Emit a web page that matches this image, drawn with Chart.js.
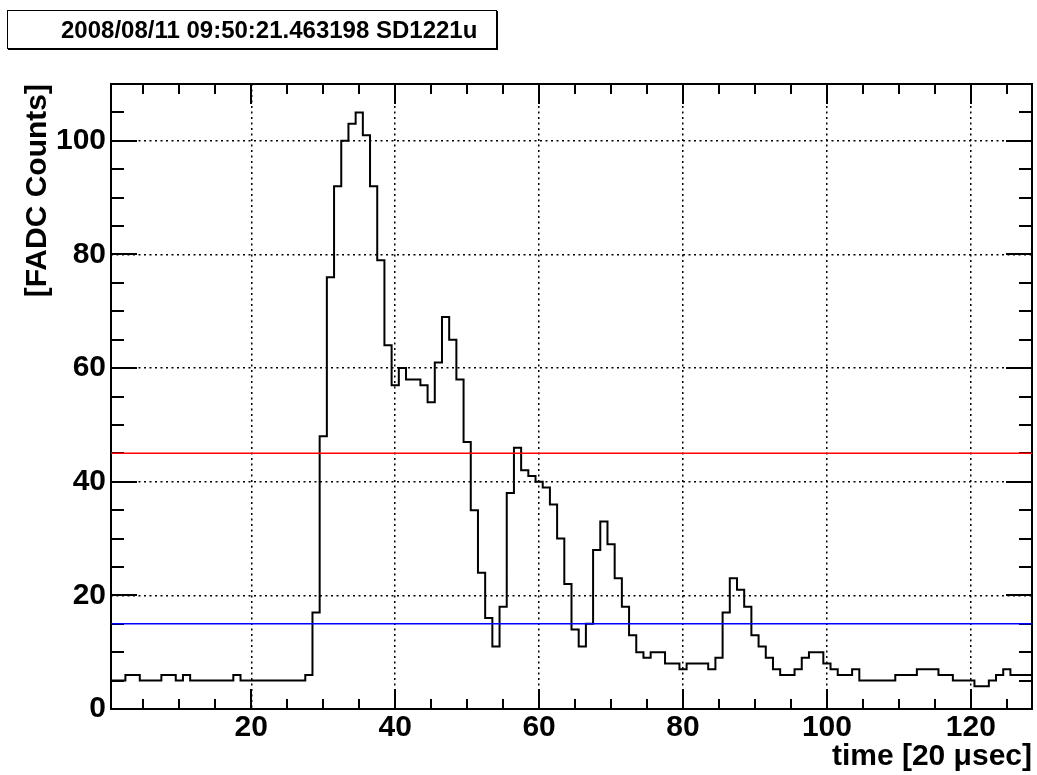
<!DOCTYPE html>
<html>
<head>
<meta charset="utf-8">
<title>SD1221u FADC trace</title>
<script src="https://cdn.jsdelivr.net/npm/chart.js@4.4.1/dist/chart.umd.min.js"></script>
<style>
  body { margin: 0; background: #fff; }
  #wrap { position: relative; width: 1037px; height: 775px; }
  #c { position: absolute; left: 0; top: 0; }
  #title {
    position: absolute; left: 7px; top: 10px; width: 490px; height: 39px;
    box-sizing: border-box; border: 1px solid #000; box-shadow: 1px 1px 0 #000;
    background: #fff; padding-left: 53px; white-space: nowrap;
    font: bold 24px "Liberation Sans", Arial, sans-serif; line-height: 37px; color: #000;
  }
</style>
</head>
<body>
<div id="wrap">
  <canvas id="c" width="1037" height="775"></canvas>
  <div id="title">2008/08/11 09:50:21.463198 SD1221u</div>
</div>
<script>
// FADC counts per 20 usec time bin, bins 1..128
const counts = [
  5, 5, 6, 6, 5, 5, 5, 6, 6, 5,
  6, 5, 5, 5, 5, 5, 5, 6, 5, 5,
  5, 5, 5, 5, 5, 5, 5, 6, 17, 48,
  76, 92, 100, 103, 105, 101, 92, 79, 64, 57,
  60, 58, 58, 57, 54, 61, 69, 65, 58, 47,
  35, 24, 16, 11, 18, 38, 46, 42, 41, 40,
  39, 36, 30, 22, 14, 11, 15, 28, 33, 29,
  23, 18, 13, 10, 9, 10, 10, 8, 8, 7,
  8, 8, 8, 7, 9, 17, 23, 21, 18, 13,
  11, 9, 7, 6, 6, 7, 9, 10, 10, 8,
  7, 6, 6, 7, 5, 5, 5, 5, 5, 6,
  6, 6, 7, 7, 7, 6, 6, 5, 5, 5,
  4, 4, 5, 6, 7, 6, 6, 6
];
const firstEdge = 0.5;
const xRange = [0.5, 128.5];
const yRange = [0, 110];
const xTicks = [20, 40, 60, 80, 100, 120];
const yTicks = [0, 20, 40, 60, 80, 100];
const upperLevel = 45;
const lowerLevel = 15;

const FONT = '"Liberation Sans", Arial, Helvetica, sans-serif';
const labelFont = { family: FONT, size: 30, weight: 'bold' };

// left bin edges, plus the closing right edge of the last bin
const histPoints = counts.map((v, i) => ({ x: firstEdge + i, y: v }));
histPoints.push({ x: firstEdge + counts.length, y: counts[counts.length - 1] });

const levelLine = (v) => [{ x: xRange[0], y: v }, { x: xRange[1], y: v }];

// frame with inward tick marks on all four sides, drawn under the data
const frameTicks = {
  id: 'frameTicks',
  beforeDatasetsDraw(chart) {
    const { ctx, chartArea: a, scales: { x, y } } = chart;
    ctx.save();
    ctx.strokeStyle = '#000';
    ctx.lineWidth = 2;
    ctx.beginPath();
    for (let v = 5; v < xRange[1]; v += 5) {
      const px = Math.round(x.getPixelForValue(v));
      const len = xTicks.includes(v) ? 20 : 10;
      ctx.moveTo(px, a.bottom); ctx.lineTo(px, a.bottom - len);
      ctx.moveTo(px, a.top); ctx.lineTo(px, a.top + len);
    }
    for (let v = 5; v < yRange[1]; v += 5) {
      const py = Math.round(y.getPixelForValue(v));
      const len = yTicks.includes(v) ? 26 : 13;
      ctx.moveTo(a.left, py); ctx.lineTo(a.left + len, py);
      ctx.moveTo(a.right, py); ctx.lineTo(a.right - len, py);
    }
    ctx.stroke();
    ctx.strokeRect(a.left, a.top, a.right - a.left, a.bottom - a.top);
    ctx.restore();
  }
};

new Chart(document.getElementById('c'), {
  type: 'line',
  data: {
    datasets: [
      {
        data: histPoints,
        stepped: 'before',
        borderColor: '#000',
        borderWidth: 2,
        pointRadius: 0,
        fill: false,
        order: 2
      },
      {
        data: levelLine(upperLevel),
        borderColor: '#ff0000',
        borderWidth: 1.5,
        pointRadius: 0,
        order: 1
      },
      {
        data: levelLine(lowerLevel),
        borderColor: '#0000ff',
        borderWidth: 1.5,
        pointRadius: 0,
        order: 1
      }
    ]
  },
  options: {
    responsive: false,
    animation: false,
    layout: { padding: { top: 84, right: 5, left: 0, bottom: 0 } },
    plugins: { legend: { display: false }, tooltip: { enabled: false } },
    scales: {
      x: {
        type: 'linear',
        min: xRange[0],
        max: xRange[1],
        afterBuildTicks: (s) => { s.ticks = xTicks.map(v => ({ value: v })); },
        afterFit: (s) => { s.height = 66; },
        grid: { color: '#000', lineWidth: 1.5, drawTicks: false },
        border: { display: false, dash: [2, 3.5] },
        ticks: { color: '#000', padding: 1, maxRotation: 0, autoSkip: false, font: labelFont },
        title: {
          display: true, text: 'time [20 \u03bcsec]', align: 'end', color: '#000',
          padding: { top: 0, bottom: 0 }, font: labelFont
        }
      },
      y: {
        min: yRange[0],
        max: yRange[1],
        afterBuildTicks: (s) => { s.ticks = yTicks.map(v => ({ value: v })); },
        afterFit: (s) => { s.width = 111; },
        grid: { color: '#000', lineWidth: 1.5, drawTicks: false },
        border: { display: false, dash: [2, 3.5] },
        ticks: { color: '#000', padding: 5, font: labelFont },
        title: {
          display: true, text: '[FADC Counts]', align: 'end', color: '#000',
          padding: { top: 20, bottom: 0 }, font: labelFont
        }
      }
    }
  },
  plugins: [frameTicks]
});
</script>
</body>
</html>
